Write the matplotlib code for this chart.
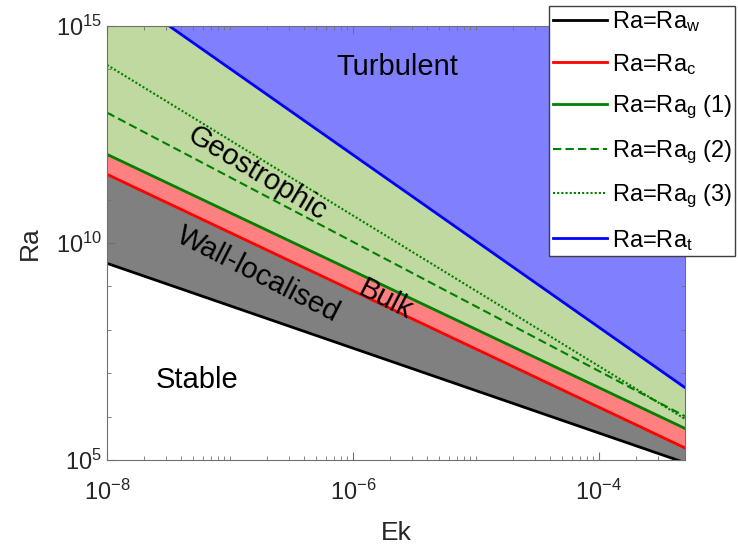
import matplotlib
matplotlib.use("Agg")
import matplotlib.pyplot as plt
from matplotlib.ticker import LogLocator, FixedLocator, NullFormatter
import numpy as np

plt.rcParams['font.family'] = ['Liberation Sans', 'DejaVu Sans']
plt.rcParams['mathtext.fontset'] = 'custom'
plt.rcParams['mathtext.rm'] = 'Liberation Sans'
plt.rcParams['mathtext.it'] = 'Liberation Sans:italic'
plt.rcParams['mathtext.default'] = 'regular'

# Regime boundaries, straight lines in log-log space: values at both ends of the Ek range
ek = [1e-8, 5e-4]
ra_w = [10**9.53, 10**4.94]
ra_c = [10**11.58, 10**5.28]
ra_g1 = [10**12.04, 10**5.73]
ra_g2 = [10**13.00, 10**6.01]
ra_g3 = [10**14.10, 10**5.95]
ra_t = [10**16.00, 10**6.67]

ra_top = [1e17, 1e17]

fig = plt.figure(figsize=(7.38, 5.49), dpi=100)
ax = fig.add_axes([0.145, 0.162, 0.783, 0.791])
ax.set_xscale('log')
ax.set_yscale('log')

# shaded regimes
ax.fill_between(ek, ra_w, ra_c, color='#808080', lw=0)
ax.fill_between(ek, ra_c, ra_g1, color='#ff8080', lw=0)
ax.fill_between(ek, ra_g1, ra_t, color='#bfd9a0', lw=0)
ax.fill_between(ek, ra_t, ra_top, color='#8080ff', lw=0)

# boundaries
ax.plot(ek, ra_w, color='black', lw=2, label=r'Ra=Ra$_\mathrm{w}$')
ax.plot(ek, ra_c, color='red', lw=2, label=r'Ra=Ra$_\mathrm{c}$')
ax.plot(ek, ra_g1, color='#008000', lw=2, label=r'Ra=Ra$_\mathrm{g}$ (1)')
ax.plot(ek, ra_g2, color='#008000', lw=1.5, ls=(0, (4, 2)), label=r'Ra=Ra$_\mathrm{g}$ (2)')
ax.plot(ek, ra_g3, color='#008000', lw=1.5, ls=(0, (1, 1)), label=r'Ra=Ra$_\mathrm{g}$ (3)')
ax.plot(ek, ra_t, color='blue', lw=2, label=r'Ra=Ra$_\mathrm{t}$')

ax.set_xlim(1e-8, 5e-4)
ax.set_ylim(1e5, 1e15)

# ticks
ax.xaxis.set_major_locator(FixedLocator([1e-8, 1e-6, 1e-4]))
ax.xaxis.set_minor_locator(LogLocator(base=10, subs=np.arange(1, 10), numticks=20))
ax.xaxis.set_minor_formatter(NullFormatter())
ax.yaxis.set_major_locator(FixedLocator([1e5, 1e10, 1e15]))
ax.yaxis.set_minor_locator(FixedLocator([10.0**k for k in range(5, 16)]))
ax.yaxis.set_minor_formatter(NullFormatter())
ax.tick_params(which='both', direction='in', top=True, right=True,
               colors='#707070', labelcolor='#262626', labelsize=17)
ax.tick_params(which='major', length=6, width=0.8)
ax.tick_params(which='minor', length=3, width=0.6)
ax.tick_params(axis='x', which='major', pad=14)
for s in ax.spines.values():
    s.set_color('#707070')
    s.set_linewidth(0.8)

ax.set_xlabel('Ek', fontsize=19, color='#262626', labelpad=12)
ax.set_ylabel('Ra', fontsize=19, color='#262626', labelpad=10)

# regime names
ax.text(2.3e-6, 10**14.06, 'Turbulent', fontsize=21, ha='center', va='center')
ax.text(1.67e-7, 10**11.61, 'Geostrophic', fontsize=21, ha='center', va='center', rotation=-31)
ax.text(1.7e-7, 10**9.28, 'Wall-localised', fontsize=21, ha='center', va='center', rotation=-27)
ax.text(1.84e-6, 10**8.69, 'Bulk', fontsize=21, ha='center', va='center', rotation=-27)
ax.text(5.4e-8, 10**6.84, 'Stable', fontsize=21, ha='center', va='center')

fig.legend(loc='upper left', bbox_to_anchor=(549 / 738, 1 - 6 / 549), fontsize=17,
           frameon=True, fancybox=False, edgecolor='#404040', framealpha=1,
           handlelength=2.3, handletextpad=0.2, labelspacing=0.73, borderpad=0.15,
           borderaxespad=0)

fig.savefig('out.png', dpi=100)
